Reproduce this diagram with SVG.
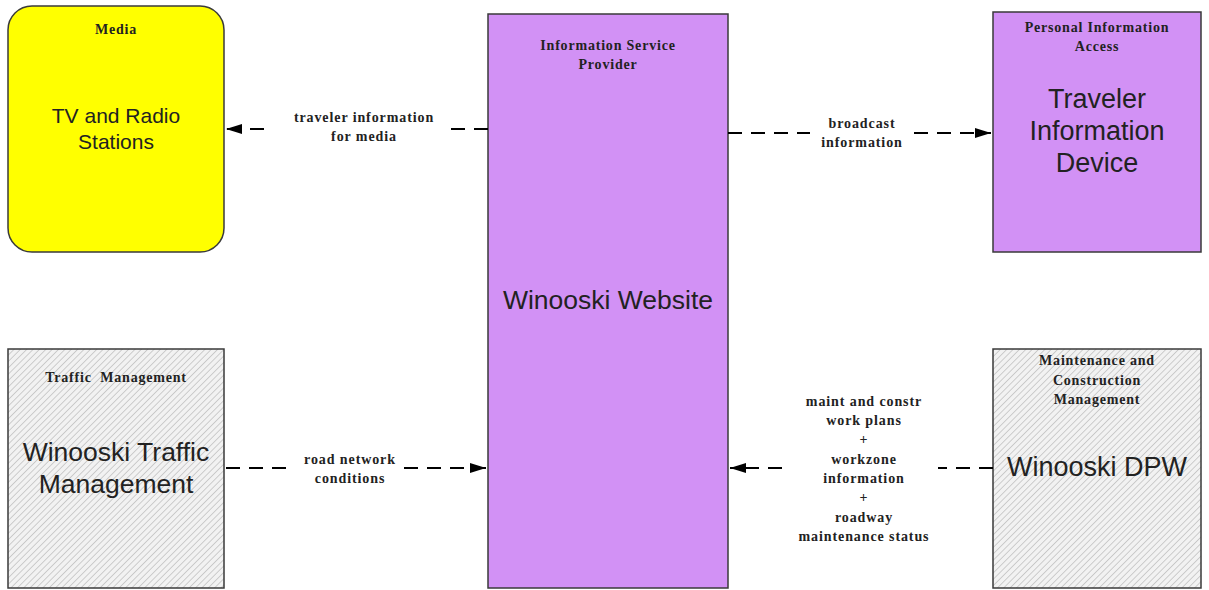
<svg xmlns="http://www.w3.org/2000/svg" width="1209" height="590" viewBox="0 0 1209 590">
<style>
.box{stroke:#3a3a3a;stroke-width:1.5}
.isp{fill:#d291f5}
.hatch{fill:url(#hatch)}
.cat{font-family:"Liberation Serif",serif;font-weight:bold;font-size:14px;letter-spacing:0.8px;fill:#222;text-anchor:middle}
.name{font-family:"Liberation Sans",Arial,sans-serif;fill:#222;text-anchor:middle}
.lbl{font-family:"Liberation Serif",serif;font-weight:bold;font-size:14px;letter-spacing:0.9px;fill:#222;text-anchor:middle}
.flow{stroke:#000;stroke-width:2;stroke-dasharray:14 9;fill:none}
</style>
<defs>
<pattern id="hatch" width="4.5" height="4.5" patternUnits="userSpaceOnUse" patternTransform="rotate(45)">
<rect width="4.5" height="4.5" fill="#f2f2f2"/>
<line x1="0" y1="0" x2="0" y2="4.5" stroke="#b8b8b8" stroke-width="1.3"/>
</pattern>
<marker id="arrow" viewBox="0 0 16 10" refX="16" refY="5" markerWidth="16" markerHeight="10" markerUnits="userSpaceOnUse" orient="auto">
<path d="M0,0 L16,5 L0,10 z" fill="#000"/>
</marker>
</defs>
<rect width="1209" height="590" fill="#fff"/>

<g id="media">
<rect class="box" x="8" y="6" width="216" height="246" rx="24" fill="#ffff00"/>
<text class="cat" x="116" y="34">Media</text>
<text class="name" x="116" y="123" font-size="21">TV and Radio</text>
<text class="name" x="116" y="149" font-size="21">Stations</text>
</g>

<g id="isp">
<rect class="box isp" x="488" y="14" width="240" height="574"/>
<text class="cat" x="608" y="50">Information Service</text>
<text class="cat" x="608" y="69">Provider</text>
<text class="name" x="608" y="309" font-size="26.5">Winooski Website</text>
</g>

<g id="pia">
<rect class="box isp" x="993" y="12" width="208" height="240"/>
<text class="cat" x="1097" y="32">Personal Information</text>
<text class="cat" x="1097" y="51">Access</text>
<text class="name" x="1097" y="108" font-size="27">Traveler</text>
<text class="name" x="1097" y="140" font-size="27">Information</text>
<text class="name" x="1097" y="172" font-size="27">Device</text>
</g>

<g id="traffic">
<rect class="box hatch" x="8" y="349" width="216" height="239"/>
<text class="cat" x="116" y="382" xml:space="preserve">Traffic  Management</text>
<text class="name" x="116" y="461" font-size="26.5">Winooski Traffic</text>
<text class="name" x="116" y="493" font-size="26.5">Management</text>
</g>

<g id="dpw">
<rect class="box hatch" x="993" y="349" width="208" height="239"/>
<text class="cat" x="1097" y="365">Maintenance and</text>
<text class="cat" x="1097" y="385">Construction</text>
<text class="cat" x="1097" y="404">Management</text>
<text class="name" x="1097" y="476" font-size="27">Winooski DPW</text>
</g>

<g id="connectors">
<line class="flow" x1="488" y1="129" x2="450" y2="129"/>
<line class="flow" x1="264" y1="129" x2="226" y2="129" marker-end="url(#arrow)"/>
<text class="lbl" x="364" y="122">traveler information</text>
<text class="lbl" x="364" y="141">for media</text>

<line class="flow" x1="728" y1="133" x2="810" y2="133"/>
<line class="flow" x1="914" y1="133" x2="991" y2="133" marker-end="url(#arrow)"/>
<text class="lbl" x="862" y="128">broadcast</text>
<text class="lbl" x="862" y="147">information</text>

<line class="flow" x1="226" y1="468" x2="292" y2="468"/>
<line class="flow" x1="404" y1="468" x2="486" y2="468" marker-end="url(#arrow)"/>
<text class="lbl" x="350" y="464">road network</text>
<text class="lbl" x="350" y="483">conditions</text>

<line class="flow" x1="993" y1="468" x2="938" y2="468"/>
<line class="flow" x1="782" y1="468" x2="730" y2="468" marker-end="url(#arrow)"/>
<text class="lbl" x="864" y="406">maint and constr</text>
<text class="lbl" x="864" y="425">work plans</text>
<text class="lbl" x="864" y="444">+</text>
<text class="lbl" x="864" y="464">workzone</text>
<text class="lbl" x="864" y="483">information</text>
<text class="lbl" x="864" y="502">+</text>
<text class="lbl" x="864" y="522">roadway</text>
<text class="lbl" x="864" y="541">maintenance status</text>
</g>
</svg>
